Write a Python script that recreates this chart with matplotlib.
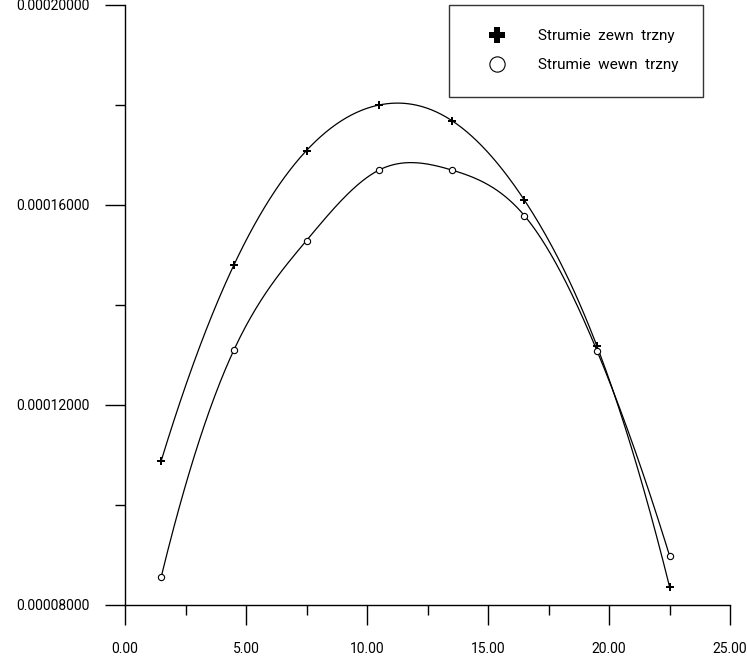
import numpy as np
import matplotlib
matplotlib.use("Agg")
import matplotlib.pyplot as plt
from matplotlib.ticker import MultipleLocator, FormatStrFormatter
from matplotlib.lines import Line2D

# ---- data ----
x_vals = [1.5, 4.5, 7.5, 10.5, 13.5, 16.5, 19.5, 22.5]
zewn = [0.0001089, 0.0001480, 0.0001709, 0.0001800, 0.0001769, 0.0001610, 0.0001318, 0.0000837]
wewn = [0.0000857, 0.0001310, 0.0001529, 0.0001670, 0.0001670, 0.0001579, 0.0001309, 0.0000899]
label_zewn = "Strumie  zewn  trzny"
label_wewn = "Strumie  wewn  trzny"


def smooth_spline(x, y, xs):
    """Cubic spline with parabolic run-out end conditions."""
    x = np.asarray(x, float); y = np.asarray(y, float)
    n = len(x)
    h = np.diff(x)
    A = np.zeros((n, n)); r = np.zeros(n)
    A[0, 0] = 1; A[0, 1] = -1
    A[-1, -1] = 1; A[-1, -2] = -1
    for i in range(1, n - 1):
        A[i, i - 1] = h[i - 1]
        A[i, i] = 2 * (h[i - 1] + h[i])
        A[i, i + 1] = h[i]
        r[i] = 6 * ((y[i + 1] - y[i]) / h[i] - (y[i] - y[i - 1]) / h[i - 1])
    M = np.linalg.solve(A, r)
    out = np.empty_like(xs)
    for k, t in enumerate(xs):
        i = min(max(np.searchsorted(x, t) - 1, 0), n - 2)
        a = x[i + 1] - t; b = t - x[i]
        out[k] = (M[i] * a**3 + M[i + 1] * b**3) / (6 * h[i]) \
            + (y[i] / h[i] - M[i] * h[i] / 6) * a \
            + (y[i + 1] / h[i] - M[i + 1] * h[i] / 6) * b
    return out


plt.rcParams['font.family'] = ['Roboto', 'DejaVu Sans']

fig = plt.figure(figsize=(7.47, 6.61), dpi=100)
ax = fig.add_axes([125 / 747, 1 - 605 / 661, 605 / 747, 600 / 661])

xs = np.linspace(x_vals[0], x_vals[-1], 400)
ax.plot(xs, smooth_spline(x_vals, zewn, xs), color='black', lw=0.9)
ax.plot(xs, smooth_spline(x_vals, wewn, xs), color='black', lw=0.9)
ax.plot(x_vals, zewn, linestyle='none', marker='P', color='black', ms=5.5, mew=0)
ax.plot(x_vals, wewn, linestyle='none', marker='o', mfc='white', mec='black', ms=4.5, mew=0.8)

ax.set_xlim(0, 25)
ax.set_ylim(0.00008, 0.0002)
for s in ['top', 'right']:
    ax.spines[s].set_visible(False)
for s in ['left', 'bottom']:
    ax.spines[s].set_linewidth(1.0)

ax.xaxis.set_major_locator(MultipleLocator(5))
ax.xaxis.set_minor_locator(MultipleLocator(2.5))
ax.yaxis.set_major_locator(MultipleLocator(0.00004))
ax.yaxis.set_minor_locator(MultipleLocator(0.00002))
ax.xaxis.set_major_formatter(FormatStrFormatter('%.2f'))
ax.yaxis.set_major_formatter(FormatStrFormatter('%.8f'))
ax.tick_params(which='major', length=14.4, width=1.0, direction='out', labelsize=10)
ax.tick_params(which='minor', length=7.2, width=1.0, direction='out')
ax.tick_params(axis='y', which='major', pad=10.8)
ax.tick_params(axis='x', which='major', pad=12)

handles = [
    Line2D([], [], linestyle='none', marker='P', color='black', ms=12, mew=0),
    Line2D([], [], linestyle='none', marker='o', mfc='white', mec='black', ms=11, mew=0.8),
]
leg = fig.legend(handles, [label_zewn, label_wewn], loc='upper left',
                 bbox_to_anchor=(449 / 747, 1 - 5 / 661), fontsize=11,
                 frameon=True, fancybox=False, edgecolor='black',
                 borderpad=1.6, labelspacing=0.96, handlelength=3.14,
                 handletextpad=1.11, borderaxespad=0)
leg.get_frame().set_linewidth(1.0)

fig.savefig("out.png", dpi=100)
